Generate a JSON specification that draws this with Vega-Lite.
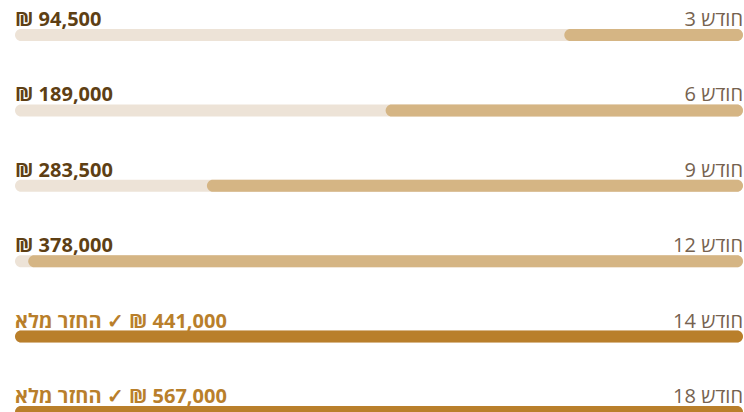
{
  "$schema": "https://vega.github.io/schema/vega-lite/v6.json",
  "width": 728,
  "height": 412,
  "padding": {"left": 15, "right": 1, "top": 0, "bottom": 0},
  "autosize": {"type": "none"},
  "background": "#ffffff",
  "config": {"view": {"stroke": null}, "text": {"font": "Open Sans"}},
  "data": {
    "values": [
      {"idx": 0, "month": "חודש 3", "value": 94500, "goal": 385000, "label": "₪ 94,500"},
      {"idx": 1, "month": "חודש 6", "value": 189000, "goal": 385000, "label": "₪ 189,000"},
      {"idx": 2, "month": "חודש 9", "value": 283500, "goal": 385000, "label": "₪ 283,500"},
      {"idx": 3, "month": "חודש 12", "value": 378000, "goal": 385000, "label": "₪ 378,000"},
      {"idx": 4, "month": "חודש 14", "value": 441000, "goal": 385000, "label": "החזר מלא\u200e ✓ ₪ 441,000"},
      {"idx": 5, "month": "חודש 18", "value": 567000, "goal": 385000, "label": "החזר מלא\u200e ✓ ₪ 567,000"}
    ]
  },
  "layer": [
    {
      "mark": {"type": "bar", "height": 12, "cornerRadius": 6, "color": "#ede3d7"},
      "encoding": {
        "y": {"field": "idx", "type": "quantitative", "scale": {"domain": [0, 5], "range": [35, 412], "padding": 0, "nice": false, "zero": false}, "axis": null},
        "x": {"field": "goal", "type": "quantitative", "scale": {"domain": [0, 385000], "reverse": true, "clamp": true, "nice": false, "padding": 0}, "axis": null},
        "x2": {"datum": 0}
      }
    },
    {
      "mark": {"type": "bar", "height": 12, "cornerRadius": 6},
      "encoding": {
        "y": {"field": "idx", "type": "quantitative"},
        "x": {"field": "value", "type": "quantitative"},
        "x2": {"datum": 0},
        "color": {"condition": {"test": "datum.value >= 385000", "value": "#b97f2b"}, "value": "#d5b584"}
      }
    },
    {
      "mark": {"type": "text", "align": "left", "baseline": "alphabetic", "dy": -9, "fontSize": 20, "fontWeight": "bold"},
      "encoding": {
        "y": {"field": "idx", "type": "quantitative"},
        "x": {"field": "goal", "type": "quantitative"},
        "text": {"field": "label"},
        "color": {"condition": {"test": "datum.value >= 385000", "value": "#b97f2b"}, "value": "#5e3f14"}
      }
    },
    {
      "mark": {"type": "text", "align": "right", "baseline": "alphabetic", "dy": -9, "fontSize": 20, "color": "#76624f"},
      "encoding": {
        "y": {"field": "idx", "type": "quantitative"},
        "x": {"datum": 0, "type": "quantitative"},
        "text": {"field": "month"}
      }
    }
  ]
}
